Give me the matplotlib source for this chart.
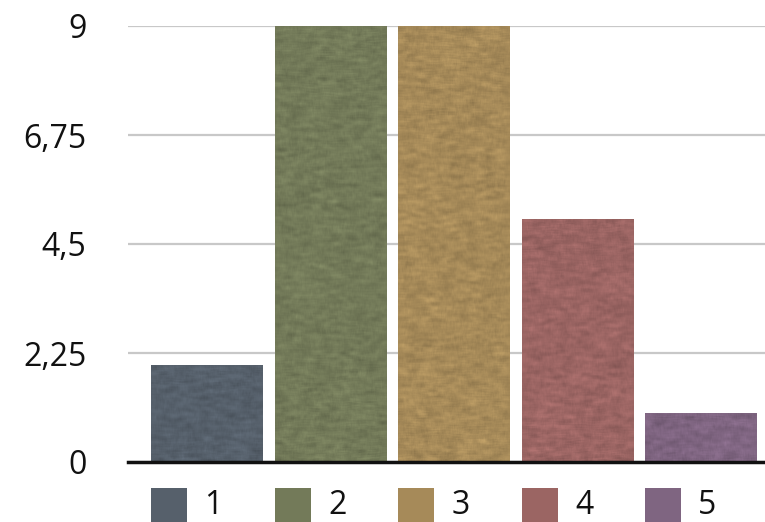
import numpy as np
import matplotlib
matplotlib.use('Agg')
import matplotlib.pyplot as plt
from matplotlib.colors import to_rgb
from matplotlib.ticker import FuncFormatter
from matplotlib.patches import Rectangle
import matplotlib.transforms as mtransforms

categories = ['1', '2', '3', '4', '5']
values = [2, 9, 9, 5, 1]
colors = ['#56606b', '#737a59', '#a68a59', '#9b6563', '#7f6581']
yticks = [0, 2.25, 4.5, 6.75, 9]

plt.rcParams['font.family'] = ['Open Sans', 'DejaVu Sans']

fig = plt.figure(figsize=(7.65, 5.22), dpi=100)
ax = fig.add_axes([128 / 765, 60 / 522, 637 / 765, 436 / 522])

x = np.arange(len(categories))
width = 0.9
bars = ax.bar(x, values, width=width, color=colors, zorder=2)

# paper-like texture over each bar (styling only)
rng = np.random.default_rng(3)
def texture(shape):
    n = rng.normal(size=shape)
    k = np.ones(9) / 9
    n = np.apply_along_axis(lambda r: np.convolve(r, k, mode='same'), 1, n)
    k2 = np.ones(4) / 4
    n = np.apply_along_axis(lambda c: np.convolve(c, k2, mode='same'), 0, n)
    return n / n.std()

for b, c in zip(bars, colors):
    h_px = max(int(b.get_height() * 48.4), 4)
    img = np.array(to_rgb(c))[None, None, :] * (1 + 0.04 * texture((h_px, 112)))[:, :, None]
    ax.imshow(np.clip(img, 0, 1), extent=[b.get_x(), b.get_x() + b.get_width(), 0, b.get_height()],
              aspect='auto', zorder=3, interpolation='bilinear')

ax.set_xlim(-0.64, 4.52)
ax.set_ylim(0, 9)
ax.set_yticks(yticks)
ax.yaxis.set_major_formatter(FuncFormatter(lambda v, p: ('%g' % v).replace('.', ',')))
ax.tick_params(axis='y', length=0, pad=30, labelsize=23, labelcolor='#111111')
ax.set_xticks([])
ax.grid(axis='y', color='#c8c8c8', linewidth=1.6, zorder=0)
for s in ['top', 'right', 'left']:
    ax.spines[s].set_visible(False)
ax.spines['bottom'].set_linewidth(2.5)
ax.spines['bottom'].set_color('#111111')
ax.spines['bottom'].set_zorder(5)

# legend aligned under bars
trans = mtransforms.blended_transform_factory(ax.transData, fig.transFigure)
for i, (cat, c) in enumerate(zip(categories, colors)):
    left = x[i] - width / 2
    ax.add_patch(Rectangle((left, 0 / 522), 0.29, 34 / 522, transform=trans,
                           facecolor=c, edgecolor='none', clip_on=False))
    ax.text(left + 0.43, 17 / 522, cat, transform=trans, fontsize=23,
            va='center', ha='left', color='#111111')

fig.savefig('out.png', dpi=100, facecolor='white')
